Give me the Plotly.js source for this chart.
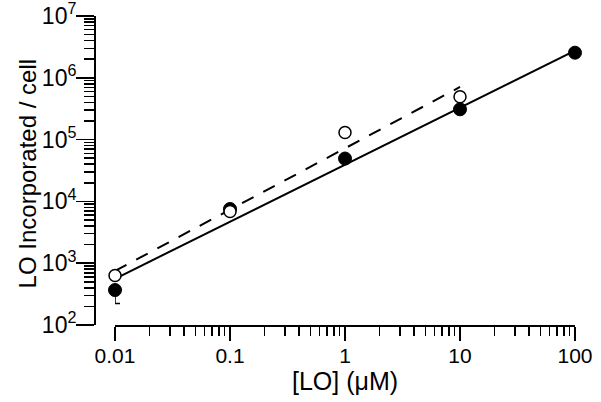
<!DOCTYPE html>
<html>
<head>
<meta charset="utf-8">
<script src="https://cdn.plot.ly/plotly-3.0.1.min.js"></script>
<style>html,body{margin:0;padding:0;background:#fff;}#chart{width:601px;height:402px;}</style>
</head>
<body>
<div id="chart"></div>
<script>
// Concentrations (µM)
const conc = [0.01, 0.1, 1, 10, 100];
const concOpen = [0.01, 0.1, 1, 10];
// Filled circles
const filledVals = [368, 7540, 49400, 309000, 2550000];
const filledErrMinus = [145, 0, 0, 0, 0];
// Open circles
const openVals = [632, 6870, 130000, 494000];
// Regression lines (endpoints)
const solidX = [0.01, 100];
const solidY = [560, 2750000];
const dashX = [0.01, 10];
const dashY = [748, 710000];
// Tick labels
const xTickVals = [0.01, 0.1, 1, 10, 100];
const xTickText = ['0.01', '0.1', '1', '10', '100'];
const yTickVals = [1e2, 1e3, 1e4, 1e5, 1e6, 1e7];
const yTickText = ['10<sup>2</sup>', '10<sup>3</sup>', '10<sup>4</sup>', '10<sup>5</sup>', '10<sup>6</sup>', '10<sup>7</sup>'];
const yTitle = 'LO Incorporated / cell';
const xTitle = '[LO] (μM)';

const font = 'Arial, "Liberation Sans", sans-serif';

const traces = [
  {x: solidX, y: solidY, mode: 'lines', line: {color: '#000', width: 2}, cliponaxis: false, showlegend: false, hoverinfo: 'skip'},
  {x: dashX, y: dashY, mode: 'lines', line: {color: '#000', width: 2, dash: '13px,11px'}, cliponaxis: false, showlegend: false, hoverinfo: 'skip'},
  {x: conc, y: filledVals, mode: 'markers', cliponaxis: false, showlegend: false,
   marker: {symbol: 'circle', size: 13, color: '#000', line: {color: '#000', width: 1}},
   error_y: {type: 'data', symmetric: false, array: [0,0,0,0,0], arrayminus: filledErrMinus, color: '#000', thickness: 1.5, width: 5}},
  {x: concOpen, y: openVals, mode: 'markers', cliponaxis: false, showlegend: false,
   marker: {symbol: 'circle', size: 12, color: '#fff', line: {color: '#000', width: 1.5}}}
];

const layout = {
  width: 601, height: 402,
  margin: {l: 95, r: 26, t: 16, b: 77},
  paper_bgcolor: '#fff', plot_bgcolor: '#fff',
  font: {family: font, color: '#000'},
  showlegend: false,
  xaxis: {
    type: 'log', range: [-2, 2], domain: [0.0417, 1], anchor: 'y',
    showgrid: false, zeroline: false, showline: true, linecolor: '#000', linewidth: 2,
    ticks: 'outside', ticklen: 14, tickwidth: 1.5, tickcolor: '#000',
    tickmode: 'array', tickvals: xTickVals, ticktext: xTickText,
    tickfont: {family: font, size: 21, color: '#000'},
    ticklabelstandoff: -3, ticklabeloverflow: 'allow',
    minor: {ticks: 'outside', ticklen: 9, tickwidth: 1.5, tickcolor: '#000', dtick: 'D1', showgrid: false},
    title: {text: xTitle, font: {family: font, size: 25, color: '#000'}, standoff: 6}
  },
  yaxis: {
    type: 'log', range: [2, 7], domain: [0, 1], anchor: 'free', position: 0,
    showgrid: false, zeroline: false, showline: true, linecolor: '#000', linewidth: 2,
    ticks: 'outside', ticklen: 18, tickwidth: 1.5, tickcolor: '#000',
    tickmode: 'array', tickvals: yTickVals, ticktext: yTickText,
    tickfont: {family: font, size: 23, color: '#000'},
    ticklabelstandoff: -5, ticklabeloverflow: 'allow',
    minor: {ticks: 'outside', ticklen: 10, tickwidth: 1.5, tickcolor: '#000', dtick: 'D1', showgrid: false},
    title: {text: ''}
  },
  annotations: [{
    text: yTitle, xref: 'paper', yref: 'paper', x: -0.14, y: 0.49,
    xanchor: 'center', yanchor: 'middle', textangle: -90, showarrow: false,
    font: {family: font, size: 24, color: '#000'}
  }]
};

Plotly.newPlot('chart', traces, layout, {displayModeBar: false, staticPlot: true});
</script>
</body>
</html>
